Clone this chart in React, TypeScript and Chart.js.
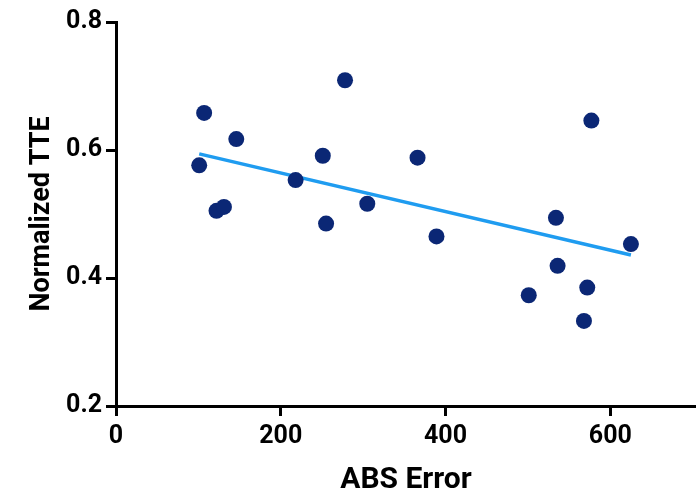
import React, { useEffect, useRef } from "react";
import { Chart, registerables } from "chart.js";

Chart.register(...registerables);

const absError = [101, 107, 122, 131, 146, 218, 251, 255, 278, 305, 366, 389, 501, 534, 536, 572, 568, 577, 625];
const normTTE = [0.576, 0.658, 0.505, 0.511, 0.617, 0.553, 0.591, 0.485, 0.709, 0.516, 0.588, 0.465, 0.373, 0.494, 0.419, 0.385, 0.333, 0.646, 0.453];
const fitX = [101, 625];
const fitY = [0.594, 0.436];
const xTicks = [0, 200, 400, 600];
const yTicks = [0.2, 0.4, 0.6, 0.8];

const FONT = "Roboto, 'Open Sans', sans-serif";

export default function App() {
  const ref = useRef<HTMLCanvasElement | null>(null);
  useEffect(() => {
    if (!ref.current) return;
    const chart = new Chart(ref.current, {
      type: "scatter",
      data: {
        datasets: [
          {
            type: "scatter",
            data: absError.map((x, i) => ({ x, y: normTTE[i] })),
            backgroundColor: "#0b2775",
            borderColor: "#0b2775",
            borderWidth: 0,
            pointRadius: 8,
            order: 0,
            clip: false,
          } as any,
          {
            type: "line",
            data: fitX.map((x, i) => ({ x, y: fitY[i] })),
            borderColor: "#1f9cf0",
            borderWidth: 3.5,
            pointRadius: 0,
            fill: false,
            order: 1,
          } as any,
        ],
      },
      options: {
        responsive: false,
        animation: false,
        layout: { autoPadding: false, padding: { top: 22, right: 0, left: 0, bottom: 0 } },
        plugins: { legend: { display: false }, tooltip: { enabled: false } },
        scales: {
          x: {
            type: "linear",
            min: 0,
            max: 704,
            afterBuildTicks: (s: any) => {
              s.ticks = xTicks.map((v) => ({ value: v }));
            },
            afterFit: (s: any) => {
              s.height = 92;
              s.paddingRight = 0;
              s.paddingLeft = 0;
            },
            ticks: {
              color: "#000",
              padding: 6,
              font: { family: FONT, size: 25, weight: "bold" },
            },
            grid: { drawOnChartArea: false, drawTicks: true, tickLength: 10, lineWidth: 3, color: "#000" },
            border: { width: 3, color: "#000" },
            title: {
              display: true,
              text: "ABS Error",
              color: "#000",
              font: { family: FONT, size: 30, weight: "bold" },
              padding: { top: 10, bottom: 0 },
            },
          },
          y: {
            type: "linear",
            min: 0.2,
            max: 0.8,
            afterBuildTicks: (s: any) => {
              s.ticks = yTicks.map((v) => ({ value: v }));
            },
            afterFit: (s: any) => {
              s.width = 116;
              s.paddingTop = 0;
              s.paddingBottom = 0;
            },
            ticks: {
              color: "#000",
              padding: 4,
              font: { family: FONT, size: 25, weight: "bold" },
              callback: (v: any) => Number(v).toFixed(1),
            },
            grid: { drawOnChartArea: false, drawTicks: true, tickLength: 10, lineWidth: 3, color: "#000" },
            border: { width: 3, color: "#000" },
            title: {
              display: true,
              text: "Normalized TTE",
              color: "#000",
              font: { family: FONT, size: 27, weight: "bold" },
              padding: { top: 26, bottom: 0 },
            },
          },
        },
      },
    });
    return () => chart.destroy();
  }, []);
  return (
    <div style={{ position: "fixed", left: 0, top: 0, width: 696, height: 498, background: "#fff" }}>
      <canvas ref={ref} width={696} height={498} style={{ width: 696, height: 498 }} />
    </div>
  );
}
